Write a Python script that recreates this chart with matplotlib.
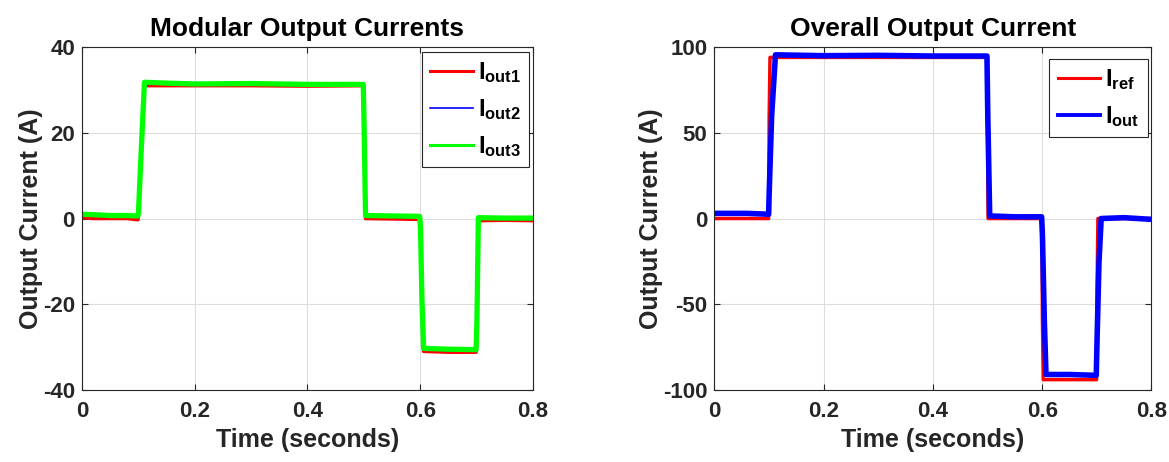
import matplotlib
matplotlib.use("Agg")
import matplotlib.pyplot as plt

# Modular output currents (left panel)
mod_time = [0.0, 0.02, 0.05, 0.08, 0.0995, 0.1005, 0.105, 0.111, 0.15, 0.2, 0.3, 0.4, 0.499,
            0.5005, 0.503, 0.55, 0.599, 0.6005, 0.603, 0.606, 0.65, 0.699, 0.7005, 0.703, 0.75, 0.8]
iout1 = [0.2, 0.0, 0.0, 0.0, -0.3, 1.0, 14.0, 31.0, 31.0, 31.0, 31.0, 30.9, 31.0,
         20.0, 0.0, -0.1, -0.2, -3.0, -20.0, -31.0, -31.2, -31.2, -25.0, -0.5, -0.4, -0.5]
iout2 = [0.9, 0.8, 0.6, 0.6, 0.5, 1.5, 15.0, 31.5, 31.6, 31.3, 31.4, 31.2, 31.2,
         21.0, 0.6, 0.5, 0.4, -2.5, -19.0, -30.4, -30.6, -30.6, -24.0, 0.1, 0.0, 0.0]
iout3 = [1.0, 0.9, 0.7, 0.7, 0.6, 1.6, 15.0, 31.8, 31.6, 31.4, 31.5, 31.3, 31.3,
         21.0, 0.7, 0.6, 0.5, -2.5, -19.0, -30.3, -30.5, -30.6, -24.0, 0.2, 0.1, 0.1]

# Overall output current (right panel)
ref_time = [0.0, 0.0995, 0.1005, 0.102, 0.4995, 0.5005, 0.501, 0.5995, 0.6005, 0.602,
            0.6995, 0.7005, 0.702, 0.8]
iref = [0.0, 0.0, 60.0, 94.0, 94.0, 30.0, 0.0, 0.0, -60.0, -94.0, -94.0, -40.0, 0.0, 0.0]

out_time = [0.0, 0.03, 0.06, 0.0995, 0.1005, 0.105, 0.112, 0.2, 0.3, 0.4, 0.499, 0.5005,
            0.504, 0.55, 0.599, 0.6005, 0.604, 0.607, 0.65, 0.699, 0.7005, 0.704, 0.708, 0.75, 0.8]
iout = [3.0, 3.0, 3.0, 2.5, 15.0, 60.0, 95.5, 95.0, 95.2, 94.8, 94.8, 60.0,
        1.5, 1.0, 1.0, -10.0, -60.0, -91.0, -91.0, -91.5, -70.0, -25.0, 0.0, 0.5, -0.5]

x_ticks = [0, 0.2, 0.4, 0.6, 0.8]
x_tick_labels = ["0", "0.2", "0.4", "0.6", "0.8"]
left_y_ticks = [-40, -20, 0, 20, 40]
right_y_ticks = [-100, -50, 0, 50, 100]

plt.rcParams["font.family"] = "Liberation Sans"
plt.rcParams["font.weight"] = "bold"
plt.rcParams["axes.unicode_minus"] = False
plt.rcParams["mathtext.fontset"] = "custom"
plt.rcParams["mathtext.rm"] = "Liberation Sans:bold"
plt.rcParams["mathtext.bf"] = "Liberation Sans:bold"
plt.rcParams["mathtext.default"] = "bf"

TEXT = "#262626"


def style_axes(ax, title, yticks):
    """
    MATLAB-like look: boxed axes, inward ticks, light grid.
    """

    ax.set_xlim(0, 0.8)
    ax.set_ylim(yticks[0], yticks[-1])
    ax.set_xticks(x_ticks)
    ax.set_xticklabels(x_tick_labels)
    ax.set_yticks(yticks)
    ax.tick_params(direction="in", top=True, right=True, labelsize=16,
                   length=4, width=0.8, colors=TEXT)
    ax.tick_params(axis="x", pad=8)
    ax.tick_params(axis="y", pad=5)
    for lab in ax.get_xticklabels() + ax.get_yticklabels():
        lab.set_fontweight("bold")
    ax.grid(True, color="#dcdcdc", linewidth=0.8)
    ax.set_axisbelow(True)
    for spine in ax.spines.values():
        spine.set_color(TEXT)
        spine.set_linewidth(0.8)
    ax.set_title(title, fontsize=19, fontweight="bold", pad=8)
    ax.set_xlabel("Time (seconds)", fontsize=18, fontweight="bold", color=TEXT, labelpad=4)
    ax.set_ylabel("Output Current (A)", fontsize=18, fontweight="bold", color=TEXT, labelpad=0)


def add_legend(ax, anchor, widths):
    leg = ax.legend(loc="upper right", fontsize=17, handlelength=1.8, labelspacing=0.5,
                    borderpad=0.35, handletextpad=0.2, borderaxespad=0, fancybox=False,
                    framealpha=1, edgecolor=TEXT, bbox_to_anchor=anchor)
    for line, w in zip(leg.get_lines(), widths):
        line.set_linewidth(w)
    leg.get_frame().set_linewidth(0.8)
    return leg


fig = plt.figure(figsize=(11.69, 4.62), dpi=100)
ax1 = fig.add_axes([0.070, 0.156, 0.386, 0.742])
ax2 = fig.add_axes([0.611, 0.156, 0.374, 0.742])

ax1.plot(mod_time, iout1, color="#ff0000", linewidth=2.5, label="$I_{out1}$")
ax1.plot(mod_time, iout2, color="#0000ff", linewidth=2.5, label="$I_{out2}$")
ax1.plot(mod_time, iout3, color="#00ff00", linewidth=3.8, label="$I_{out3}$")
style_axes(ax1, "Modular Output Currents", left_y_ticks)
add_legend(ax1, (0.991, 0.985), [2.2, 1.2, 2.2])

ax2.plot(ref_time, iref, color="#ff0000", linewidth=2.5, label="$I_{ref}$")
ax2.plot(out_time, iout, color="#0000ff", linewidth=4.0, label="$I_{out}$")
style_axes(ax2, "Overall Output Current", right_y_ticks)
add_legend(ax2, (0.991, 0.965), [2.2, 2.8])

fig.savefig("out.png", dpi=100)
plt.close(fig)
